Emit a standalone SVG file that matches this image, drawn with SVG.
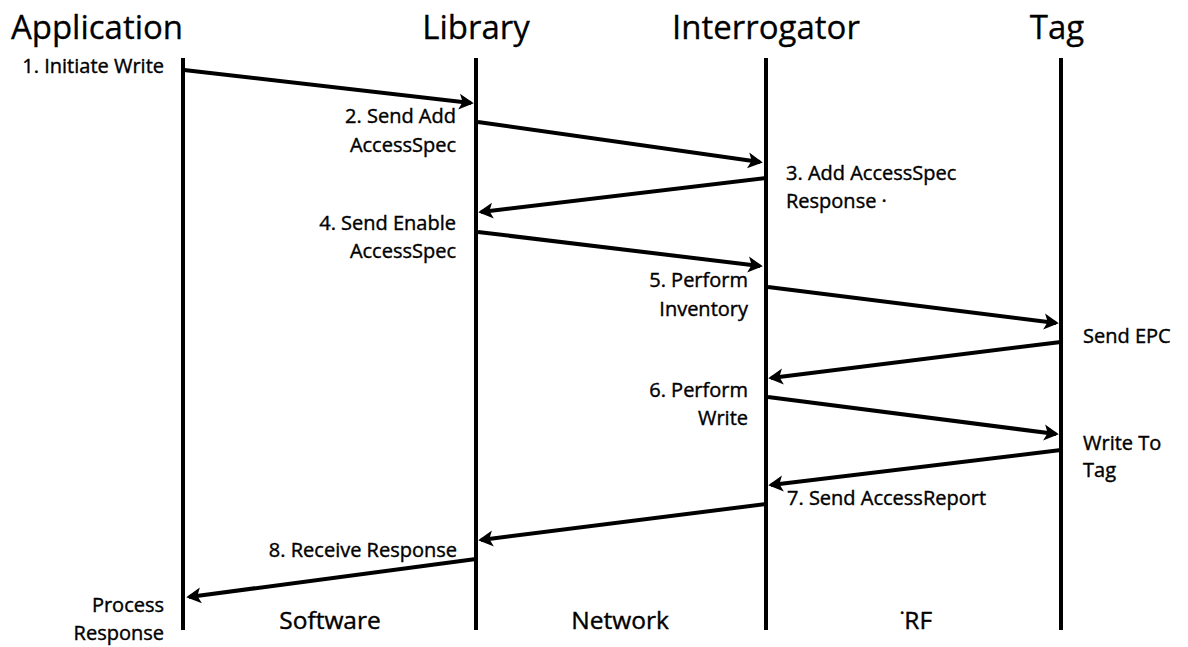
<svg xmlns="http://www.w3.org/2000/svg" width="1188" height="647" viewBox="0 0 1188 647">
<style>
.hdr{font-family:"Open Sans","Liberation Sans",sans-serif;font-size:33px;fill:#000;stroke:#000;stroke-width:0.3}
.lbl{font-family:"Open Sans","Liberation Sans",sans-serif;font-size:20px;fill:#000;stroke:#000;stroke-width:0.4}
.lane{font-family:"Open Sans","Liberation Sans",sans-serif;font-size:24.5px;fill:#000;stroke:#000;stroke-width:0.4}
.life{stroke:#000;stroke-width:4;fill:none}
.msg{stroke:#000;stroke-width:4;fill:none;marker-end:url(#ah)}
</style>
<defs>
<marker id="ah" markerWidth="4.5" markerHeight="4.5" refX="3" refY="2.2" orient="auto" markerUnits="strokeWidth">
<path d="M0,0.2 L3.7,2.2 L0,4.2 L0.9,2.2 z" fill="#000"/>
</marker>
</defs>
<rect width="1188" height="647" fill="#fff"/>
<g id="application">
<text class="hdr" x="97" y="39" text-anchor="middle">Application</text>
<line class="life" x1="183" y1="58" x2="183" y2="630"/>
</g>
<g id="library">
<text class="hdr" x="476" y="39" text-anchor="middle">Library</text>
<line class="life" x1="476" y1="58" x2="476" y2="630"/>
</g>
<g id="interrogator">
<text class="hdr" x="766" y="39" text-anchor="middle">Interrogator</text>
<line class="life" x1="766" y1="58" x2="766" y2="630"/>
</g>
<g id="tag">
<text class="hdr" x="1057" y="39" text-anchor="middle">Tag</text>
<line class="life" x1="1061" y1="58" x2="1061" y2="630"/>
</g>
<g id="connectors">
<line class="msg" x1="184" y1="70" x2="471" y2="103"/>
<line class="msg" x1="478" y1="122" x2="760" y2="162"/>
<line class="msg" x1="766" y1="178" x2="481" y2="212"/>
<line class="msg" x1="478" y1="232" x2="760" y2="266"/>
<line class="msg" x1="768" y1="287" x2="1056" y2="323"/>
<line class="msg" x1="1061" y1="342" x2="771" y2="378"/>
<line class="msg" x1="768" y1="397" x2="1056" y2="434"/>
<line class="msg" x1="1061" y1="450" x2="771" y2="485"/>
<line class="msg" x1="766" y1="504" x2="481" y2="540"/>
<line class="msg" x1="476" y1="559" x2="189" y2="597"/>
</g>
<g id="labels">
<text class="lbl" x="164" y="73" text-anchor="end">1. Initiate Write</text>
<text class="lbl" x="456" y="123" text-anchor="end">2. Send Add</text>
<text class="lbl" x="456" y="152" text-anchor="end">AccessSpec</text>
<text class="lbl" x="786" y="180">3. Add AccessSpec</text>
<text class="lbl" x="786" y="208">Response ·</text>
<text class="lbl" x="456" y="230" text-anchor="end">4. Send Enable</text>
<text class="lbl" x="456" y="258" text-anchor="end">AccessSpec</text>
<text class="lbl" x="748" y="287" text-anchor="end">5. Perform</text>
<text class="lbl" x="748" y="316" text-anchor="end">Inventory</text>
<text class="lbl" x="1083" y="343">Send EPC</text>
<text class="lbl" x="748" y="397" text-anchor="end">6. Perform</text>
<text class="lbl" x="748" y="425" text-anchor="end">Write</text>
<text class="lbl" x="1083" y="450">Write To</text>
<text class="lbl" x="1083" y="477">Tag</text>
<text class="lbl" x="787" y="505">7. Send AccessReport</text>
<text class="lbl" x="457" y="557" text-anchor="end">8. Receive Response</text>
<text class="lbl" x="164" y="612" text-anchor="end">Process</text>
<text class="lbl" x="164" y="640" text-anchor="end">Response</text>
<text class="lane" x="330" y="629" text-anchor="middle">Software</text>
<text class="lane" x="620" y="629" text-anchor="middle">Network</text>
<text class="lane" x="916" y="629" text-anchor="middle">˙RF</text>
</g>
</svg>
